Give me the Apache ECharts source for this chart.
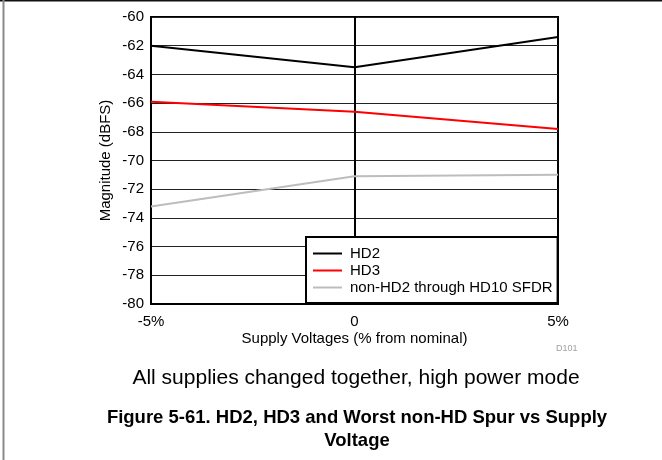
<!DOCTYPE html>
<html>
<head>
<meta charset="utf-8">
<script src="https://cdn.jsdelivr.net/npm/echarts@6/dist/echarts.min.js"></script>
<style>
  html, body { margin: 0; padding: 0; background: #fff; }
  #chart { width: 662px; height: 460px; }
</style>
</head>
<body>
<div id="chart"></div>
<script>
// Supply voltage deviation (% from nominal)
const supplyPct = [-5, 0, 5];
// Spur magnitudes in dBFS
const hd2 = [-62.0, -63.5, -61.4];
const hd3 = [-65.9, -66.6, -67.8];
const nonHdSpur = [-73.2, -71.1, -71.0];
const seriesNames = ['HD2', 'HD3', 'non-HD2 through HD10 SFDR'];
const seriesColors = ['#000000', '#ff0000', '#bdbdbd'];
const xTickLabels = { '-5': '-5%', '0': '0', '5': '5%' };

const FONT = '"Liberation Sans", Arial, sans-serif';

function pairs(xs, ys) { return xs.map((x, i) => [x, ys[i]]); }

const chart = echarts.init(document.getElementById('chart'), null, { renderer: 'canvas' });

const lineSeries = [hd2, hd3, nonHdSpur].map((vals, i) => ({
  name: seriesNames[i],
  type: 'line',
  data: pairs(supplyPct, vals),
  symbol: 'none',
  lineStyle: { color: seriesColors[i], width: 2 },
  itemStyle: { color: seriesColors[i] },
  z: 3
}));

chart.setOption({
  animation: false,
  backgroundColor: '#ffffff',
  textStyle: { fontFamily: FONT },
  title: [
    {
      text: 'All supplies changed together, high power mode',
      left: 351, top: 363, textAlign: 'center',
      textStyle: { fontFamily: FONT, fontSize: 21, fontWeight: 'normal', color: '#000' }
    },
    {
      text: 'Figure 5-61. HD2, HD3 and Worst non-HD Spur vs Supply\nVoltage',
      left: 352, top: 401, textAlign: 'center',
      textStyle: { fontFamily: FONT, fontSize: 18.5, fontWeight: 'bold', color: '#000', lineHeight: 23 }
    }
  ],
  legend: {
    orient: 'vertical',
    left: 306, top: 237,
    padding: [9, 5, 8, 7],
    itemWidth: 29, itemHeight: 2, itemGap: 2,
    backgroundColor: '#ffffff',
    borderColor: '#000', borderWidth: 2, borderRadius: 0,
    textStyle: { fontFamily: FONT, fontSize: 15, color: '#000', padding: [0, 0, 0, 3] },
    data: seriesNames.map((n, i) => ({ name: n, icon: 'rect', itemStyle: { color: seriesColors[i] } })),
    z: 10
  },
  grid: {
    left: 151, right: 104, top: 17, bottom: 156,
    show: true, borderColor: '#000', borderWidth: 2, backgroundColor: 'transparent'
  },
  xAxis: {
    type: 'value', min: -5, max: 5, interval: 5,
    name: 'Supply Voltages (% from nominal)', nameLocation: 'middle', nameGap: 27,
    nameMoveOverlap: false,
    nameTextStyle: { fontFamily: FONT, fontSize: 15, color: '#000' },
    axisLine: { show: true, lineStyle: { color: '#000', width: 2 } },
    axisTick: { show: false },
    axisLabel: { fontFamily: FONT, fontSize: 15, color: '#000', margin: 10,
      formatter: v => xTickLabels[String(v)] },
    splitLine: { show: true, lineStyle: { color: '#000', width: 1 } }
  },
  yAxis: {
    type: 'value', min: -80, max: -60, interval: 2,
    name: 'Magnitude (dBFS)', nameLocation: 'middle', nameGap: 38, nameRotate: 90,
    nameMoveOverlap: false,
    nameTextStyle: { fontFamily: FONT, fontSize: 15, color: '#000' },
    axisLine: { show: true, lineStyle: { color: '#000', width: 2 } },
    axisTick: { show: false },
    axisLabel: { fontFamily: FONT, fontSize: 15, color: '#000', margin: 7 },
    splitLine: { show: true, lineStyle: { color: '#222', width: 1 } }
  },
  graphic: [
    { type: 'line', shape: { x1: 0, y1: 0.5, x2: 662, y2: 0.5 }, style: { stroke: '#111', lineWidth: 2 } },
    { type: 'line', shape: { x1: 3.5, y1: 0, x2: 3.5, y2: 460 }, style: { stroke: '#8a8a8a', lineWidth: 2 } },
    { type: 'text', left: 556, top: 344, style: { text: 'D101', font: '9px ' + FONT, fill: '#a0a0a0' } }
  ],
  series: lineSeries
});
</script>
</body>
</html>
